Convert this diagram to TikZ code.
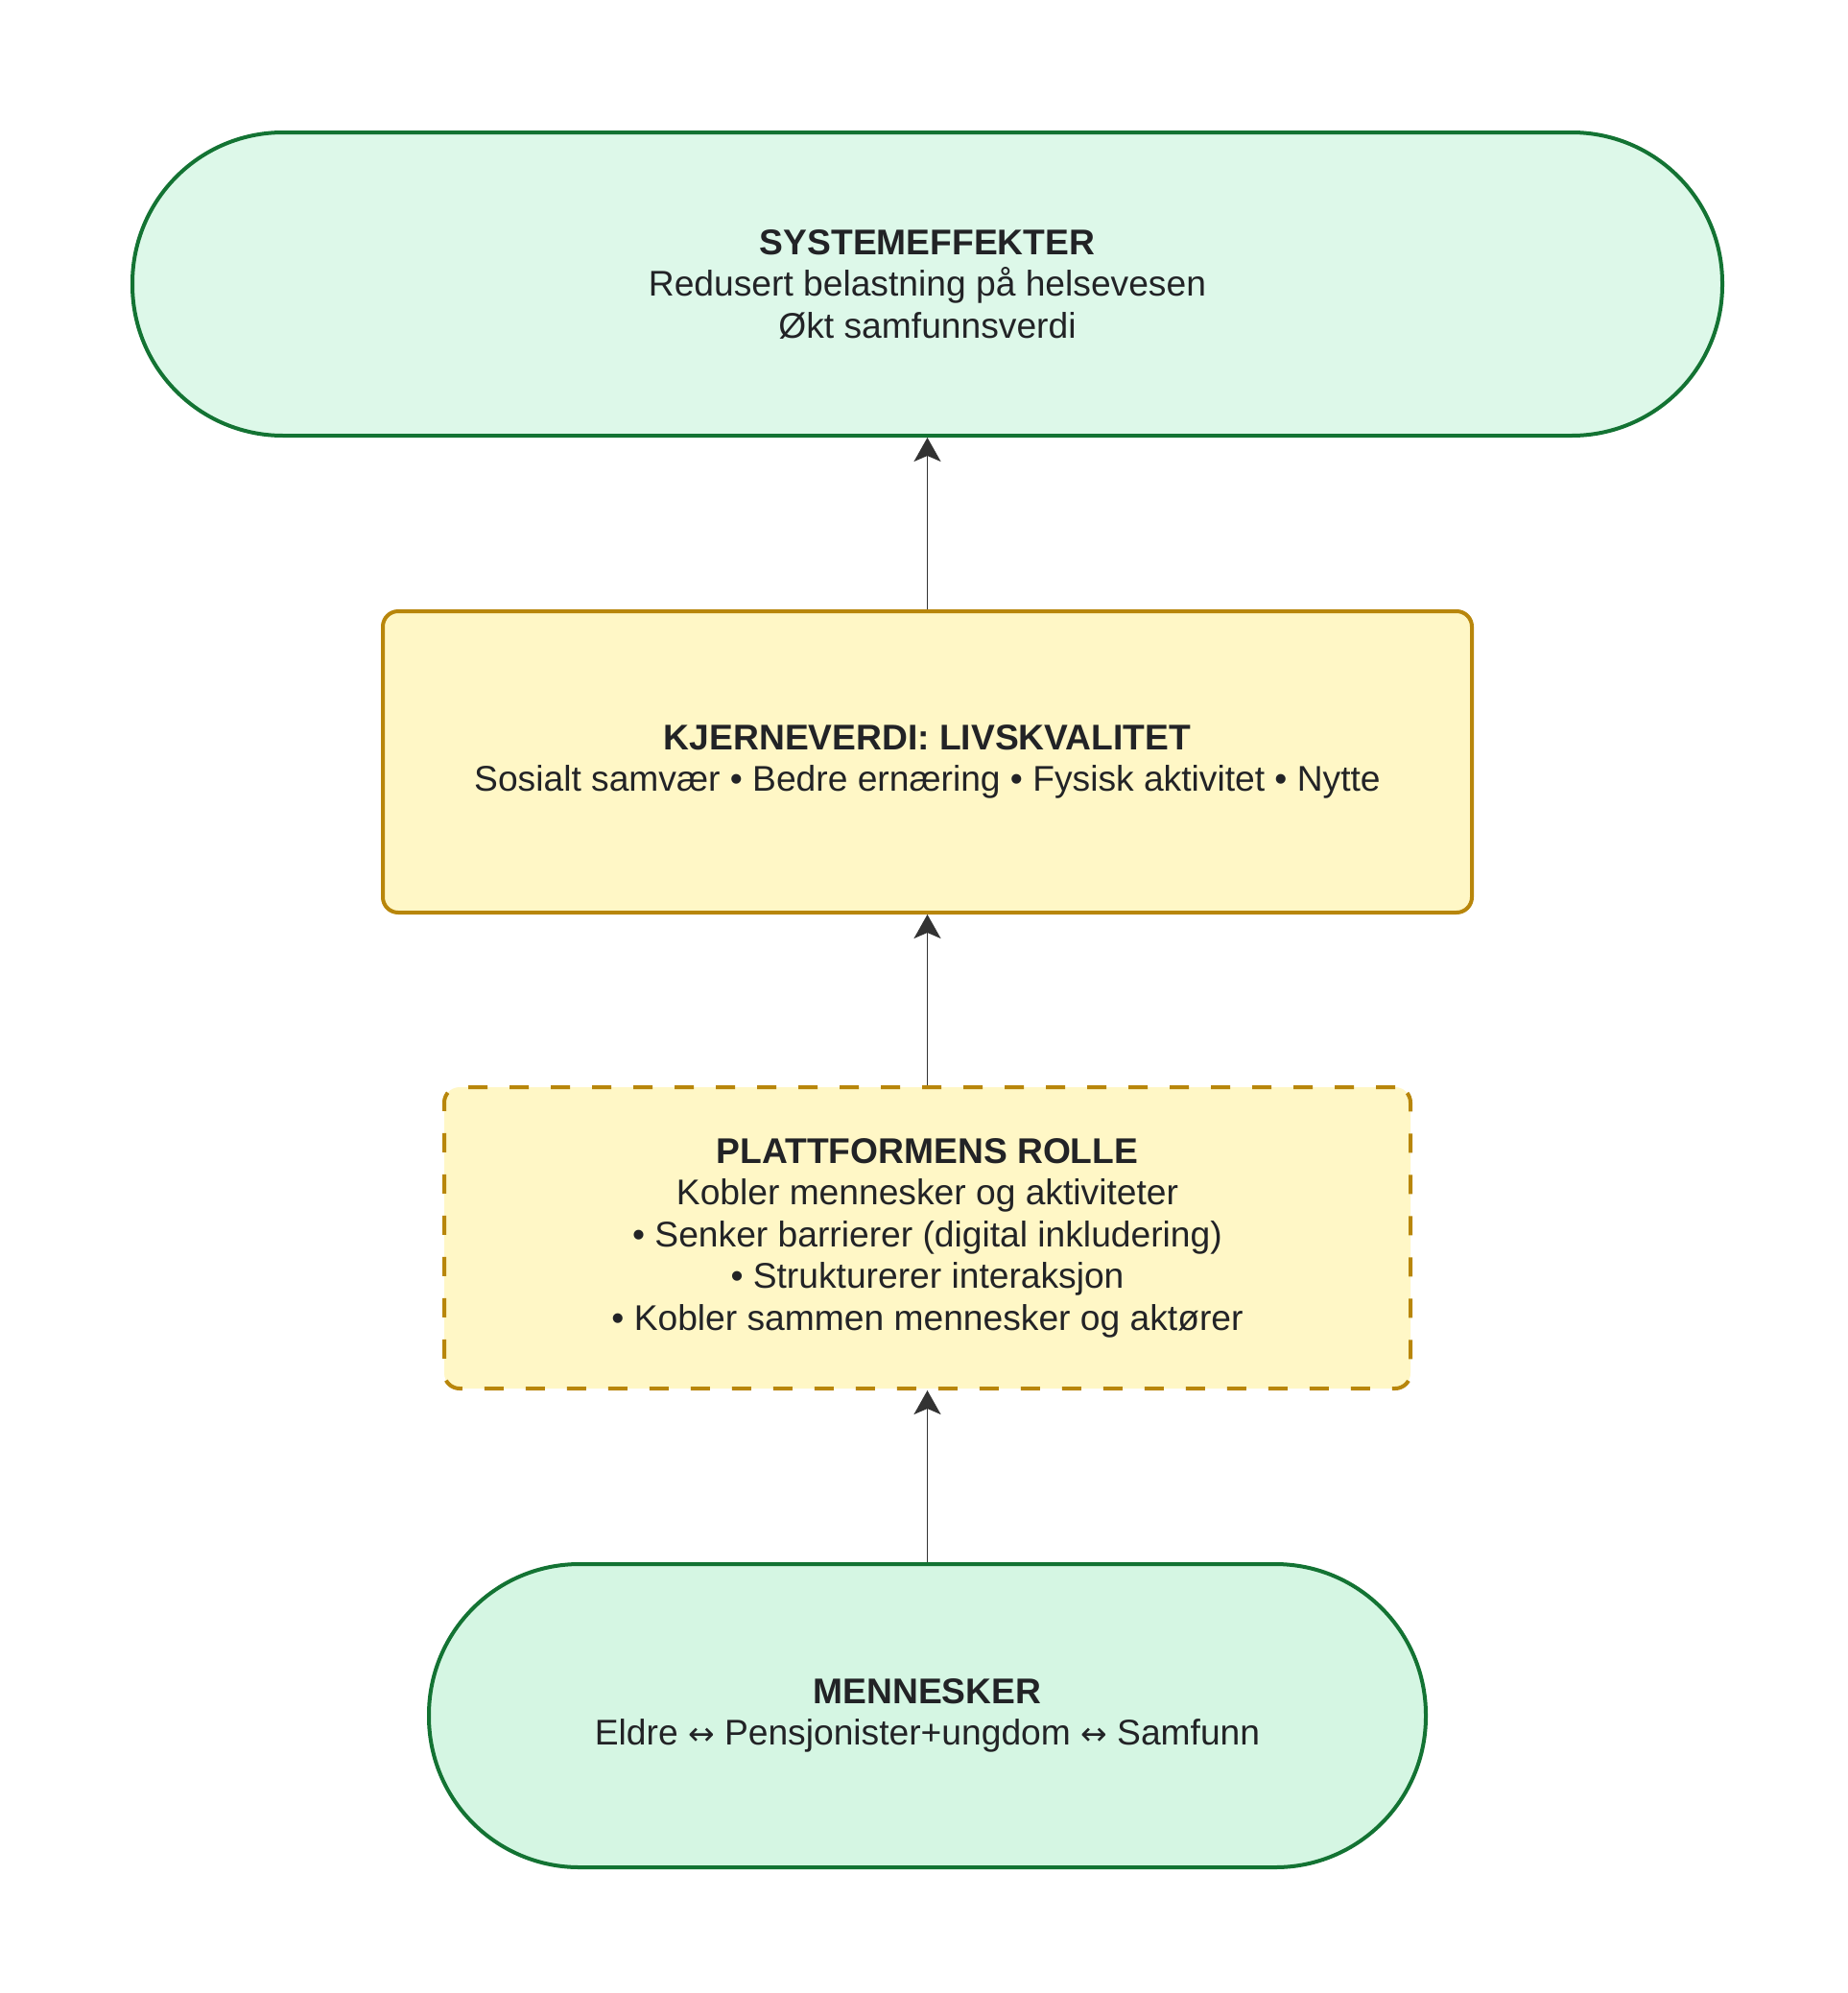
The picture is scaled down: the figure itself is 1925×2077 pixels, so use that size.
\documentclass[tikz,border=0pt]{standalone}
\usepackage{fontspec}
\setmainfont{Liberation Sans}
\newfontfamily\arrfont{DejaVu Sans}
\usetikzlibrary{arrows.meta}
\definecolor{greenstroke}{HTML}{137333}
\definecolor{topfill}{HTML}{DDF8E9}
\definecolor{botfill}{HTML}{D5F6E3}
\definecolor{yelfill}{HTML}{FFF7C6}
\definecolor{yelstroke}{HTML}{B8860B}
\definecolor{txt}{HTML}{222326}
\definecolor{arrowc}{HTML}{333333}
\newcommand{\lrarr}{{\arrfont\fontsize{33}{43.5}\selectfont ↔}}
\tikzset{
  base/.style={align=center, inner sep=0pt, text=txt, line width=4pt,
    font=\fontsize{37.2}{43.5}\selectfont},
  stadium/.style={base, draw=greenstroke, rectangle, rounded corners=157pt},
  corebox/.style={base, draw=yelstroke, fill=yelfill, rectangle, rounded corners=16pt},
  dashbox/.style={corebox, dash pattern=on 20pt off 23pt},
  conn/.style={draw=arrowc, line width=1.8pt, -{Stealth[length=25pt,width=28pt,inset=6pt]}}
}
\begin{document}
\begin{tikzpicture}[x=1pt,y=-1pt]
\useasboundingbox (0,0) rectangle (1925,2077);
\fill[white] (0,0) rectangle (1925,2077);
\node[stadium, fill=topfill, minimum width=1657pt, minimum height=316pt] (sys) at (966.5,296)
  {\textbf{SYSTEMEFFEKTER}\\Redusert belastning på helsevesen\\Økt samfunnsverdi};
\node[corebox, minimum width=1135pt, minimum height=314pt] (core) at (966.5,794)
  {\textbf{KJERNEVERDI: LIVSKVALITET}\\Sosialt samvær • Bedre ernæring • Fysisk aktivitet • Nytte};
\node[dashbox, minimum width=1007pt, minimum height=314pt] (plat) at (966.5,1290)
  {\textbf{PLATTFORMENS ROLLE}\\Kobler mennesker og aktiviteter\\• Senker barrierer (digital inkludering)\\• Strukturerer interaksjon\\• Kobler sammen mennesker og aktører};
\node[stadium, fill=botfill, minimum width=1039pt, minimum height=316pt] (men) at (966.5,1788)
  {\textbf{MENNESKER}\\Eldre \lrarr{} Pensjonister+ungdom \lrarr{} Samfunn};
\draw[conn] (men.north) -- (plat.south);
\draw[conn] (plat.north) -- (core.south);
\draw[conn] (core.north) -- (sys.south);
\end{tikzpicture}
\end{document}
